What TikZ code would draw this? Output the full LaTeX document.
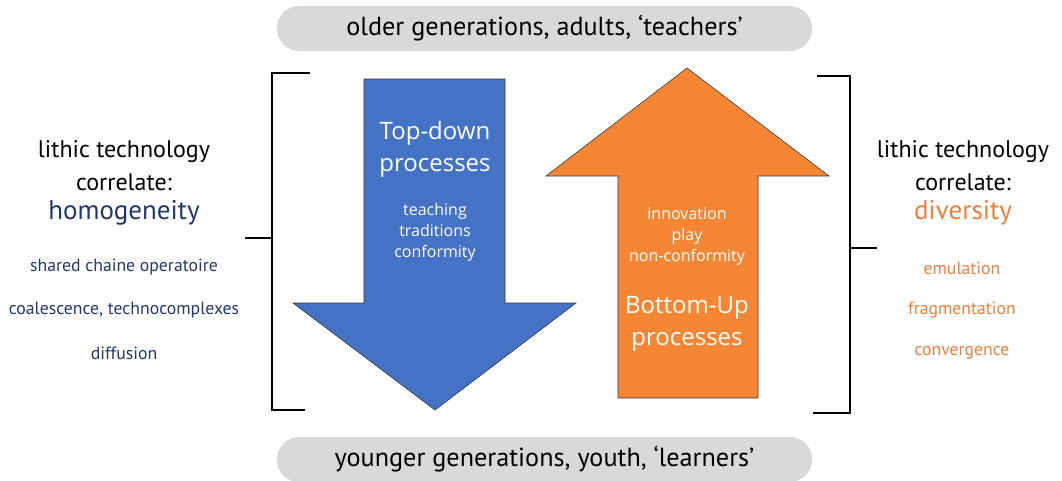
\documentclass[tikz,border=0pt]{standalone}
\usepackage{fontspec}
\setmainfont{PT Sans}
\newfontfamily\arrowfont{Open Sans}
\definecolor{pillgray}{HTML}{D9D9D9}
\definecolor{arrblue}{HTML}{4472C4}
\definecolor{arrorange}{HTML}{F58634}
\definecolor{darkblue}{HTML}{22386B}
\definecolor{txtorange}{HTML}{F07E3A}
\definecolor{edge}{HTML}{3A3A3A}
\tikzset{
  pill/.style={fill=pillgray, rounded corners=22pt, minimum width=535pt, minimum height=45pt, inner sep=0pt, font=\fontsize{26.2}{28}\selectfont},
  bracketline/.style={line width=1.6pt, black},
  bigarrow/.style={draw=edge, line width=0.6pt},
  headtxt/.style={font=\fontsize{24}{26}\selectfont, text=black},
  keytxt/.style={font=\fontsize{27}{28}\selectfont},
  smalltxt/.style={font=\fontsize{17.7}{18}\selectfont},
  arrbig/.style={font=\arrowfont\fontsize{24}{32}\selectfont, text=white, align=center},
  arrsmall/.style={font=\arrowfont\fontsize{16}{21}\selectfont, text=white, align=center},
}
\begin{document}
\begin{tikzpicture}[x=1pt,y=-1pt]
\useasboundingbox (0,0) rectangle (1062,480);
\clip (0,0) rectangle (1062,480);

% pills
\node[pill] (older) at (544.5,28.5) {older generations, adults, ‘teachers’};
\node[pill] (younger) at (544.5,459.5) {younger generations, youth, ‘learners’};

% left bracket
\coordinate (lt) at (310,73);
\coordinate (ltc) at (272,73);
\coordinate (lbc) at (272,410);
\coordinate (lb) at (305,410);
\coordinate (lm) at (272,238);
\coordinate (lmt) at (245,238);
\draw[bracketline] (lt) -- (ltc) -- (lbc) -- (lb);
\draw[bracketline] (lmt) -- (lm);

% right bracket
\coordinate (rt) at (817,76);
\coordinate (rtc) at (850,76);
\coordinate (rbc) at (850,413);
\coordinate (rb) at (813,413);
\coordinate (rm) at (850,248);
\coordinate (rmt) at (877,248);
\draw[bracketline] (rt) -- (rtc) -- (rbc) -- (rb);
\draw[bracketline] (rm) -- (rmt);

% blue down arrow
\draw[bigarrow, fill=arrblue] (364,79) -- (505,79) -- (505,303) -- (576,303) -- (435,410) -- (293,303) -- (364,303) -- cycle;
% orange up arrow
\draw[bigarrow, fill=arrorange] (687,68) -- (829,176) -- (758,176) -- (758,398) -- (618,398) -- (618,176) -- (546,176) -- cycle;

% arrow texts
\node[arrbig] (td) at (435,149) {Top-down\\processes};
\node[arrsmall] (tdl) at (435,232) {teaching\\traditions\\conformity};
\node[arrsmall] (bul) at (687,237) {innovation\\play\\non-conformity};
\node[arrbig] (bu) at (687,324) {Bottom-Up\\processes};

% left texts
\node[headtxt] (l1) at (124,152) {lithic technology};
\node[headtxt] (l2) at (124,182) {correlate:};
\node[keytxt, text=darkblue] (l3) at (124,213) {homogeneity};
\node[smalltxt, text=darkblue] (l4) at (124,267) {shared chaine operatoire};
\node[smalltxt, text=darkblue] (l5) at (124,310) {coalescence, technocomplexes};
\node[smalltxt, text=darkblue] (l6) at (124,353) {diffusion};

% right texts
\node[headtxt] (r1) at (963,152) {lithic technology};
\node[headtxt] (r2) at (963,182) {correlate:};
\node[keytxt, text=txtorange] (r3) at (963,213) {diversity};
\node[smalltxt, text=txtorange] (r4) at (962,268) {emulation};
\node[smalltxt, text=txtorange] (r5) at (962,310) {fragmentation};
\node[smalltxt, text=txtorange] (r6) at (962,353) {convergence};
\end{tikzpicture}
\end{document}
